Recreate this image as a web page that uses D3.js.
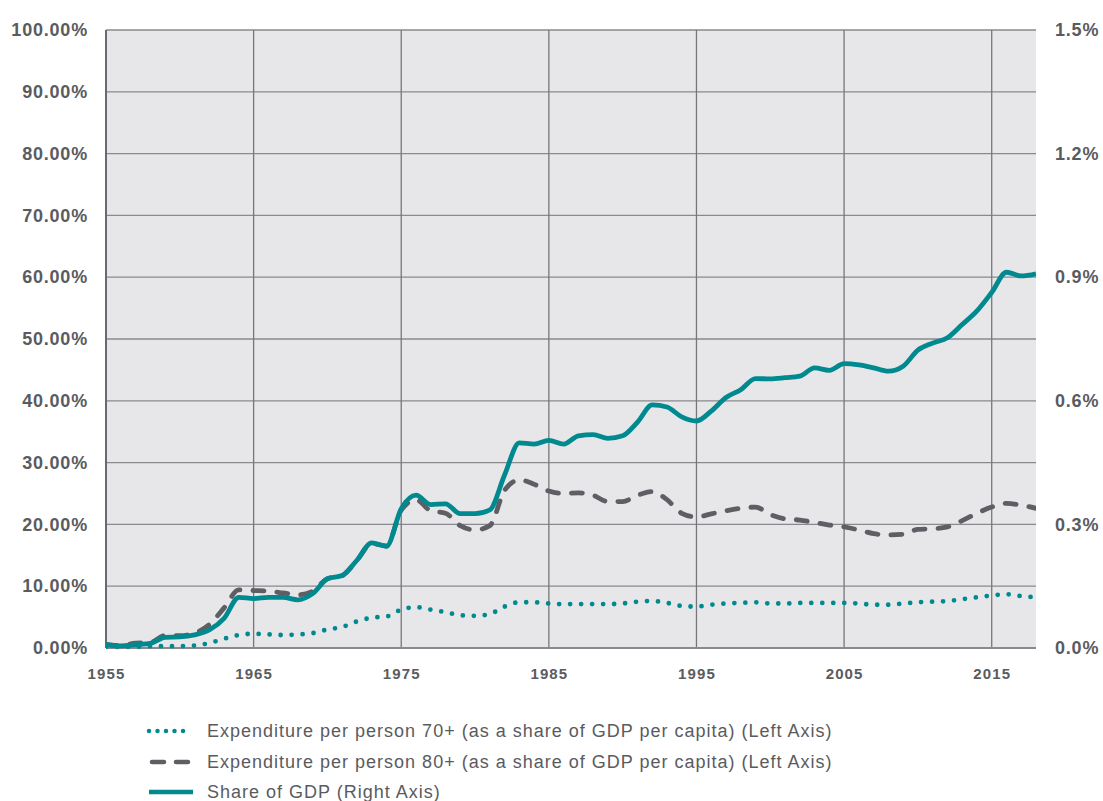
<!DOCTYPE html>
<html><head><meta charset="utf-8">
<script src="https://cdn.jsdelivr.net/npm/d3@7"></script>
<style>
html,body{margin:0;padding:0;background:#fff;}
svg{display:block;font-family:"Liberation Sans",Arial,sans-serif;}
</style></head>
<body><svg id="c" width="1103" height="801"></svg>
<script>
const years = d3.range(1955, 2019);
const exp70 = [0.2,0.2,0.2,0.3,0.3,0.3,0.4,0.8,1.5,2.1,2.3,2.2,2.1,2.2,2.4,3.0,3.4,4.3,4.9,5.1,6.2,6.6,6.2,5.8,5.3,5.2,5.5,6.7,7.4,7.4,7.2,7.1,7.1,7.1,7.1,7.2,7.5,7.6,7.3,6.8,6.7,7.0,7.2,7.3,7.4,7.2,7.2,7.3,7.3,7.3,7.3,7.2,7.0,7.0,7.2,7.4,7.5,7.6,7.9,8.2,8.5,8.7,8.4,8.2];
const exp80 = [0.6,0.4,0.8,0.9,2.0,2.0,2.4,3.8,6.5,9.4,9.3,9.2,8.9,8.6,9.2,11.2,11.7,14.2,16.9,16.5,22.3,24.0,22.2,21.8,19.8,19.1,19.8,25.5,27.2,26.5,25.4,25.0,25.1,24.7,23.7,23.7,24.7,25.3,24.0,21.8,21.2,21.7,22.2,22.6,22.8,21.6,20.9,20.7,20.3,19.9,19.6,19.1,18.5,18.3,18.4,19.2,19.3,19.6,20.6,21.8,22.8,23.4,23.1,22.6];
const shareGDP = [0.008,0.005,0.008,0.011,0.026,0.027,0.032,0.044,0.072,0.123,0.120,0.123,0.123,0.117,0.132,0.168,0.176,0.213,0.255,0.247,0.338,0.371,0.348,0.350,0.326,0.326,0.335,0.420,0.498,0.495,0.504,0.495,0.515,0.518,0.509,0.515,0.548,0.590,0.585,0.561,0.551,0.575,0.608,0.627,0.654,0.653,0.656,0.660,0.680,0.674,0.690,0.687,0.680,0.672,0.684,0.723,0.740,0.753,0.785,0.818,0.863,0.912,0.903,0.908];
const leftTicks = [0,10,20,30,40,50,60,70,80,90,100];
const rightTicks = [0,0.3,0.6,0.9,1.2,1.5];
const xTicks = [1955,1965,1975,1985,1995,2005,2015];
const legendLabels = [
  "Expenditure per person 70+ (as a share of GDP per capita) (Left Axis)",
  "Expenditure per person 80+ (as a share of GDP per capita) (Left Axis)",
  "Share of GDP (Right Axis)"
];

const teal = "#00898f", gray = "#5e5f64", textC = "#5a5b5f";
const L = 106, R = 1036, T = 30, B = 648;
const svg = d3.select("#c");
const x = d3.scaleLinear().domain([1955, 2018]).range([L, R]);
const yL = d3.scaleLinear().domain([0, 100]).range([B, T]);
const yR = d3.scaleLinear().domain([0, 1.5]).range([B, T]);

svg.append("rect").attr("x", L).attr("y", T).attr("width", R - L).attr("height", B - T).attr("fill", "#e7e7e9");

// grid
svg.append("g").selectAll("line").data(leftTicks).join("line")
  .attr("x1", L).attr("x2", R).attr("y1", d => yL(d)).attr("y2", d => yL(d))
  .attr("stroke", "#8a8a8e").attr("stroke-width", 1.3);
svg.append("g").selectAll("line").data(xTicks).join("line")
  .attr("x1", d => x(d)).attr("x2", d => x(d)).attr("y1", T).attr("y2", B)
  .attr("stroke", "#77777b").attr("stroke-width", 1.3);
svg.append("line").attr("x1", L).attr("x2", L).attr("y1", T).attr("y2", B).attr("stroke", "#6a6a6e").attr("stroke-width", 2);
svg.append("line").attr("x1", L).attr("x2", R).attr("y1", B).attr("y2", B).attr("stroke", "#8a8a8e").attr("stroke-width", 2);

// axes labels
const leftAxis = d3.axisLeft(yL).tickValues(leftTicks).tickSize(0).tickPadding(18).tickFormat(d => d.toFixed(2) + "%");
const gl = svg.append("g").attr("transform", `translate(${L},0)`).call(leftAxis);
const rightAxis = d3.axisRight(yR).tickValues(rightTicks).tickSize(0).tickPadding(19).tickFormat(d => d.toFixed(1) + "%");
const gr = svg.append("g").attr("transform", `translate(${R},0)`).call(rightAxis);
[gl, gr].forEach(g => {
  g.select(".domain").remove();
  g.selectAll("text").attr("font-size", 18).attr("font-weight", "bold").attr("fill", textC)
    .attr("letter-spacing", 0.8)
    .attr("font-family", "'Liberation Sans',Arial,sans-serif");
});
const bottomAxis = d3.axisBottom(x).tickValues(xTicks).tickSize(0).tickPadding(20).tickFormat(d3.format("d"));
const gb = svg.append("g").attr("transform", `translate(0,${B})`).call(bottomAxis);
gb.select(".domain").remove();
gb.selectAll("text").attr("font-size", 15).attr("font-weight", "bold").attr("fill", textC)
  .attr("letter-spacing", 1.1)
  .attr("font-family", "'Liberation Sans',Arial,sans-serif");

// lines
svg.append("clipPath").attr("id", "clip").append("rect").attr("x", L).attr("y", T - 5).attr("width", R - L).attr("height", B - T + 10);
const gLines = svg.append("g").attr("clip-path", "url(#clip)");
const lineL = d3.line().x((d, i) => x(years[i])).y(d => yL(d)).curve(d3.curveMonotoneX);
const lineR = d3.line().x((d, i) => x(years[i])).y(d => yR(d)).curve(d3.curveMonotoneX);

gLines.append("path").datum(exp70).attr("d", lineL).attr("fill", "none")
  .attr("stroke", teal).attr("stroke-width", 4.8).attr("stroke-linecap", "round").attr("stroke-dasharray", "0,11");
gLines.append("path").datum(exp80).attr("d", lineL).attr("fill", "none")
  .attr("stroke", gray).attr("stroke-width", 4.8).attr("stroke-linecap", "round").attr("stroke-dasharray", "11,13");
gLines.append("path").datum(shareGDP).attr("d", lineR).attr("fill", "none")
  .attr("stroke", teal).attr("stroke-width", 4.8).attr("stroke-linejoin", "round");

// legend
const legY = [731, 762, 792];
const lg = svg.append("g");
const styles = [
  {c: teal, dash: "0,8.5", cap: "round"},
  {c: gray, dash: "12,12", cap: "round"},
  {c: teal, dash: null, cap: "butt"}
];
legendLabels.forEach((t, i) => {
  const s = styles[i];
  const ln = lg.append("line").attr("x1", i === 1 ? 152 : 149).attr("x2", i === 2 ? 193 : 191)
    .attr("y1", legY[i]).attr("y2", legY[i])
    .attr("stroke", s.c).attr("stroke-width", 4.5).attr("stroke-linecap", s.cap);
  if (s.dash) ln.attr("stroke-dasharray", s.dash);
  lg.append("text").attr("x", 207).attr("y", legY[i]).attr("dy", "0.35em")
    .attr("font-size", 18).attr("letter-spacing", 1.0).attr("fill", textC).text(t);
});
</script></body></html>
